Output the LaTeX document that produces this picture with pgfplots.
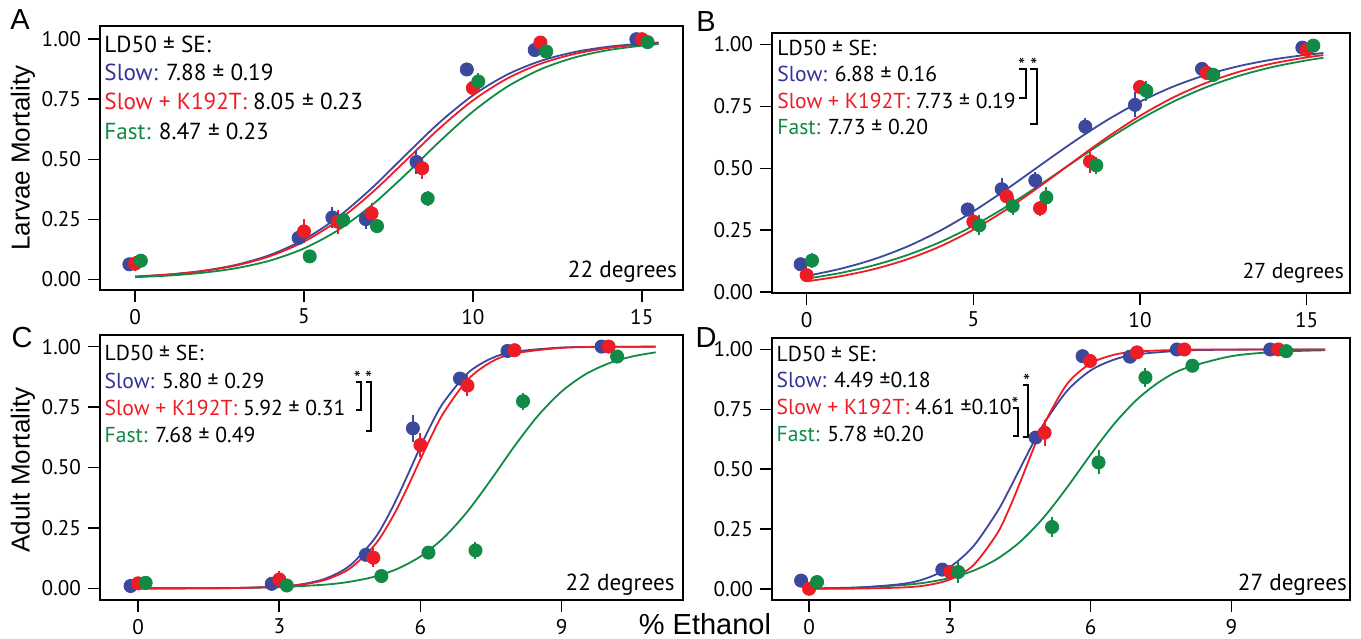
\documentclass[border=0pt]{standalone}
\usepackage{fontspec}
\setmainfont{Liberation Sans}
\newfontfamily\pts{PT Sans}
\usepackage{pgfplots}
\pgfplotsset{compat=1.18}

\definecolor{cblue}{RGB}{59,72,155}
\definecolor{cred}{RGB}{238,28,36}
\definecolor{cgreen}{RGB}{16,138,68}
\definecolor{tblue}{RGB}{52,50,150}

\newcommand\txtA{\pts\fontsize{11.6}{14}\selectfont}
\newcommand\txt{\pts\fontsize{10.8}{13}\selectfont}

\pgfplotsset{
  panel/.style={
    scale only axis, anchor=south west,
    axis line style={line width=1pt},
    tick style={black, line width=0.8pt},
    tick align=outside, tick pos=left, major tick length=6pt,
    ytick={0,0.25,0.5,0.75,1},
    yticklabel style={/pgf/number format/.cd, fixed, fixed zerofill, precision=2},
    tick label style={font=\pts\fontsize{10.6}{12}\selectfont},
    /pgf/number format/assume math mode=true,
    clip=false,
  },
  fit/.style={#1, line width=0.9pt, smooth, no marks},
  pts/.style={only marks, mark=*, mark size=3.3pt, #1,
    error bars/.cd, y dir=both, y explicit, error mark=none,
    error bar style={line width=1pt, #1}},
}

\begin{document}
\begin{tikzpicture}[x=1pt,y=1pt]
\useasboundingbox (0,0) rectangle (680.5,319);

% ---------- A: larvae, 22 degrees
\begin{axis}[panel, at={(50pt,174pt)}, width=291.5pt, height=132pt,
  xmin=-1.04, xmax=16.22, ymin=-0.044, ymax=1.055, xtick={0,5,10,15}]
\addplot[fit=cblue] coordinates {(0,0.0120)(1,0.0208)(2,0.0358)(3,0.0611)(4,0.1022)(5,0.1662)(6,0.2587)(7,0.3792)(8,0.5168)(9,0.6519)(10,0.7663)(11,0.8516)(12,0.9094)(13,0.9462)(14,0.9685)(15,0.9818)(15.5,0.9862)};
\addplot[fit=cred] coordinates {(0,0.0118)(1,0.0203)(2,0.0346)(3,0.0585)(4,0.0973)(5,0.1574)(6,0.2446)(7,0.3595)(8,0.4931)(9,0.6277)(10,0.7451)(11,0.8351)(12,0.8978)(13,0.9383)(14,0.9635)(15,0.9786)(15.5,0.9837)};
\addplot[fit=cgreen] coordinates {(0,0.0094)(1,0.0162)(2,0.0277)(3,0.0470)(4,0.0788)(5,0.1291)(6,0.2045)(7,0.3082)(8,0.4357)(9,0.5724)(10,0.6988)(11,0.8009)(12,0.8745)(13,0.9235)(14,0.9544)(15,0.9731)(15.5,0.9795)};
\addplot[pts=cblue] table[row sep=\\, x=x, y=y, y error=e] {x y e\\ -0.17 0.063 0.02\\ 4.84 0.173 0.02\\ 5.84 0.258 0.045\\ 6.83 0.251 0.04\\ 8.33 0.489 0.05\\ 9.82 0.874 0.02\\ 11.83 0.955 0.02\\ 14.84 1.0 0.01\\};
\addplot[pts=cred] table[row sep=\\, x=x, y=y, y error=e] {x y e\\ 0 0.066 0.03\\ 5 0.2 0.05\\ 6 0.24 0.05\\ 7 0.275 0.045\\ 8.5 0.463 0.045\\ 10 0.797 0.03\\ 12 0.986 0.02\\ 15 1.0 0.01\\};
\addplot[pts=cgreen] table[row sep=\\, x=x, y=y, y error=e] {x y e\\ 0.17 0.078 0.02\\ 5.17 0.096 0.02\\ 6.16 0.247 0.03\\ 7.16 0.222 0.02\\ 8.66 0.337 0.03\\ 10.16 0.824 0.035\\ 12.17 0.949 0.02\\ 15.17 0.988 0.015\\};
\node[anchor=west, inner sep=0, font=\txtA] at (axis cs:-0.92,0.979) {LD50 ± SE:};
\node[anchor=west, inner sep=0, font=\txtA] at (axis cs:-0.92,0.863) {\textcolor{tblue}{Slow:} 7.88 ± 0.19};
\node[anchor=west, inner sep=0, font=\txtA] at (axis cs:-0.92,0.743) {\textcolor{cred}{Slow + K192T:} 8.05 ± 0.23};
\node[anchor=west, inner sep=0, font=\txtA] at (axis cs:-0.92,0.618) {\textcolor{cgreen}{Fast:} 8.47 ± 0.23};
\node[anchor=east, inner sep=0, font=\txtA] at (axis cs:16.05,0.032) {22 degrees};
\end{axis}

% ---------- B: larvae, 27 degrees
\begin{axis}[panel, at={(386pt,172.5pt)}, width=289pt, height=130pt,
  xmin=-1.04, xmax=16.3, ymin=-0.003, ymax=1.046, xtick={0,5,10,15}]
\addplot[fit=cblue] coordinates {(0,0.0660)(1,0.0942)(2,0.1325)(3,0.1833)(4,0.2481)(5,0.3265)(6,0.4160)(7,0.5115)(8,0.6061)(9,0.6934)(10,0.7687)(11,0.8300)(12,0.8777)(13,0.9134)(14,0.9394)(15,0.9580)(15.5,0.9651)};
\addplot[fit=cgreen] coordinates {(0,0.0549)(1,0.0775)(2,0.1083)(3,0.1492)(4,0.2022)(5,0.2680)(6,0.3460)(7,0.4333)(8,0.5248)(9,0.6148)(10,0.6975)(11,0.7691)(12,0.8280)(13,0.8743)(14,0.9095)(15,0.9356)(15.5,0.9458)};
\addplot[fit=cred] coordinates {(0,0.0441)(1,0.0643)(2,0.0927)(3,0.1321)(4,0.1847)(5,0.2523)(6,0.3344)(7,0.4279)(8,0.5268)(9,0.6238)(10,0.7116)(11,0.7861)(12,0.8455)(13,0.8907)(14,0.9238)(15,0.9475)(15.5,0.9566)};
\addplot[pts=cblue] table[row sep=\\, x=x, y=y, y error=e] {x y e\\ -0.18 0.113 0.02\\ 4.83 0.334 0.02\\ 5.85 0.416 0.045\\ 6.86 0.451 0.035\\ 8.36 0.668 0.035\\ 9.85 0.756 0.05\\ 11.86 0.901 0.025\\ 14.87 0.987 0.015\\};
\addplot[pts=cred] table[row sep=\\, x=x, y=y, y error=e] {x y e\\ 0 0.069 0.02\\ 5 0.285 0.035\\ 6 0.387 0.045\\ 7 0.339 0.03\\ 8.5 0.528 0.045\\ 10 0.828 0.02\\ 12 0.885 0.02\\ 15 0.978 0.015\\};
\addplot[pts=cgreen] table[row sep=\\, x=x, y=y, y error=e] {x y e\\ 0.16 0.128 0.03\\ 5.18 0.27 0.04\\ 6.18 0.348 0.035\\ 7.19 0.383 0.04\\ 8.69 0.512 0.035\\ 10.19 0.813 0.04\\ 12.2 0.877 0.02\\ 15.2 0.995 0.01\\};
\node[anchor=west, inner sep=0, font=\txt] at (axis cs:-0.89,0.987) {LD50 ± SE:};
\node[anchor=west, inner sep=0, font=\txt] at (axis cs:-0.89,0.881) {\textcolor{tblue}{Slow:} 6.88 ± 0.16};
\node[anchor=west, inner sep=0, font=\txt] at (axis cs:-0.89,0.773) {\textcolor{cred}{Slow + K192T:} 7.73 ± 0.19};
\node[anchor=west, inner sep=0, font=\txt] at (axis cs:-0.89,0.668) {\textcolor{cgreen}{Fast:} 7.73 ± 0.20};
\node[anchor=east, inner sep=0, font=\txt] at (axis cs:16.13,0.077) {27 degrees};
\draw[line width=1pt] (axis cs:6.38,0.90) -- (axis cs:6.58,0.90) -- (axis cs:6.58,0.782) -- (axis cs:6.38,0.782);
\draw[line width=1pt] (axis cs:6.70,0.90) -- (axis cs:6.90,0.90) -- (axis cs:6.90,0.677) -- (axis cs:6.70,0.677);
\node[font=\pts\fontsize{10}{10}\selectfont, inner sep=0] at (axis cs:6.45,0.915) {*};
\node[font=\pts\fontsize{10}{10}\selectfont, inner sep=0] at (axis cs:6.82,0.915) {*};
\end{axis}

% ---------- C: adults, 22 degrees
\begin{axis}[panel, at={(50pt,19pt)}, width=291.5pt, height=132.5pt,
  xmin=-0.81, xmax=11.58, ymin=-0.048, ymax=1.048, xtick={0,3,6,9}]
\addplot[fit=cgreen] coordinates {(0,0.0002)(1,0.0006)(2,0.0017)(3,0.0053)(4,0.0160)(4.5,0.0276)(5,0.0473)(5.5,0.0800)(6,0.1322)(6.5,0.2105)(7,0.3182)(7.5,0.4497)(8,0.5886)(8.5,0.7146)(9,0.8143)(9.5,0.8847)(10,0.9307)(10.5,0.9592)(11,0.9763)};
\addplot[fit=cblue] coordinates {(0,0.0000)(1,0.0002)(2,0.0013)(3,0.0076)(3.5,0.0180)(4,0.0418)(4.5,0.0943)(5,0.1991)(5.25,0.2775)(5.5,0.3724)(5.75,0.4783)(6,0.5861)(6.25,0.6863)(6.5,0.7717)(7,0.8897)(7.5,0.9507)(8,0.9787)(9,0.9962)(10,0.9993)(11,0.9999)};
\addplot[fit=cred] coordinates {(0,0.0000)(1,0.0002)(2,0.0013)(3,0.0069)(3.5,0.0161)(4,0.0368)(4.5,0.0821)(5,0.1731)(5.25,0.2425)(5.5,0.3287)(5.75,0.4283)(6,0.5339)(6.25,0.6367)(6.5,0.7283)(7,0.8625)(7.5,0.9362)(8,0.9717)(9,0.9947)(10,0.9990)(11,0.9998)};
\addplot[pts=cblue] table[row sep=\\, x=x, y=y, y error=e] {x y e\\ -0.16 0.01 0.01\\ 2.84 0.019 0.01\\ 4.84 0.139 0.02\\ 5.84 0.662 0.055\\ 6.84 0.868 0.02\\ 7.85 0.982 0.01\\ 9.85 1.0 0.005\\};
\addplot[pts=cred] table[row sep=\\, x=x, y=y, y error=e] {x y e\\ 0 0.021 0.02\\ 3 0.037 0.035\\ 5 0.127 0.04\\ 6 0.593 0.05\\ 7 0.839 0.045\\ 8 0.985 0.01\\ 10 1.0 0.005\\};
\addplot[pts=cgreen] table[row sep=\\, x=x, y=y, y error=e] {x y e\\ 0.16 0.023 0.01\\ 3.16 0.012 0.01\\ 5.17 0.051 0.01\\ 6.17 0.148 0.015\\ 7.17 0.157 0.035\\ 8.18 0.774 0.035\\ 10.18 0.959 0.01\\};
\node[anchor=west, inner sep=0, font=\txt] at (axis cs:-0.72,0.972) {LD50 ± SE:};
\node[anchor=west, inner sep=0, font=\txt] at (axis cs:-0.72,0.859) {\textcolor{tblue}{Slow:} 5.80 ± 0.29};
\node[anchor=west, inner sep=0, font=\txt] at (axis cs:-0.72,0.745) {\textcolor{cred}{Slow + K192T:} 5.92 ± 0.31};
\node[anchor=west, inner sep=0, font=\txt] at (axis cs:-0.72,0.634) {\textcolor{cgreen}{Fast:} 7.68 ± 0.49};
\node[anchor=east, inner sep=0, font=\txtA] at (axis cs:11.41,0.014) {22 degrees};
\draw[line width=1pt] (axis cs:4.62,0.855) -- (axis cs:4.74,0.855) -- (axis cs:4.74,0.738) -- (axis cs:4.62,0.738);
\draw[line width=1pt] (axis cs:4.84,0.855) -- (axis cs:4.95,0.855) -- (axis cs:4.95,0.652) -- (axis cs:4.84,0.652);
\node[font=\pts\fontsize{10}{10}\selectfont, inner sep=0] at (axis cs:4.66,0.87) {*};
\node[font=\pts\fontsize{10}{10}\selectfont, inner sep=0] at (axis cs:4.90,0.87) {*};
\end{axis}

% ---------- D: adults, 27 degrees
\begin{axis}[panel, at={(386pt,19pt)}, width=289pt, height=131pt,
  xmin=-0.79, xmax=11.53, ymin=-0.047, ymax=1.048, xtick={0,3,6,9}]
\addplot[fit=cgreen] coordinates {(0,0.0017)(1,0.0052)(2,0.0154)(2.5,0.0264)(3,0.0449)(3.5,0.0753)(4,0.1237)(4.5,0.1965)(5,0.2978)(5.5,0.4236)(6,0.5602)(6.5,0.6882)(7,0.7928)(7.5,0.8690)(8,0.9200)(9,0.9719)(10,0.9904)(11,0.9968)};
\addplot[fit=cblue] coordinates {(0,0.0009)(1,0.0045)(2,0.0206)(2.5,0.0437)(3,0.0903)(3.5,0.1773)(4,0.3187)(4.25,0.4080)(4.5,0.5039)(4.75,0.5994)(5,0.6880)(5.5,0.8272)(6,0.9122)(6.5,0.9575)(7,0.9800)(8,0.9957)(9,0.9991)(10,0.9998)(11,1.0000)};
\addplot[fit=cred] coordinates {(0,0.0001)(1,0.0007)(2,0.0054)(2.5,0.0145)(3,0.0384)(3.5,0.0980)(4,0.2279)(4.25,0.3274)(4.5,0.4452)(4.75,0.5695)(5,0.6857)(5.5,0.8557)(6,0.9416)(6.5,0.9777)(7,0.9917)(8,0.9989)(9,0.9998)(10,1.0000)(11,1.0000)};
\addplot[pts=cblue] table[row sep=\\, x=x, y=y, y error=e] {x y e\\ -0.17 0.034 0.005\\ 2.84 0.080 0.01\\ 4.83 0.632 0.02\\ 5.83 0.972 0.01\\ 6.84 0.97 0.01\\ 7.84 1.0 0.005\\ 9.83 1.0 0.005\\};
\addplot[pts=cred] table[row sep=\\, x=x, y=y, y error=e] {x y e\\ 0 0.0 0.01\\ 3.01 0.070 0.02\\ 5.02 0.652 0.055\\ 5.99 0.952 0.01\\ 6.99 0.988 0.01\\ 8.0 1.0 0.005\\ 10 1.0 0.005\\};
\addplot[pts=cgreen] table[row sep=\\, x=x, y=y, y error=e] {x y e\\ 0.17 0.028 0.025\\ 3.18 0.07 0.045\\ 5.18 0.258 0.04\\ 6.17 0.528 0.05\\ 7.17 0.883 0.04\\ 8.17 0.932 0.01\\ 10.17 0.993 0.01\\};
\node[anchor=west, inner sep=0, font=\txt] at (axis cs:-0.70,0.983) {LD50 ± SE:};
\node[anchor=west, inner sep=0, font=\txt] at (axis cs:-0.70,0.873) {\textcolor{tblue}{Slow:} 4.49 ±0.18};
\node[anchor=west, inner sep=0, font=\txt] at (axis cs:-0.70,0.760) {\textcolor{cred}{Slow + K192T:} 4.61 ±0.10};
\node[anchor=west, inner sep=0, font=\txt] at (axis cs:-0.70,0.648) {\textcolor{cgreen}{Fast:} 5.78 ±0.20};
\node[anchor=east, inner sep=0, font=\txtA] at (axis cs:11.47,0.018) {27 degrees};
\draw[line width=1pt] (axis cs:4.34,0.756) -- (axis cs:4.46,0.756) -- (axis cs:4.46,0.639) -- (axis cs:4.34,0.639);
\draw[line width=1pt] (axis cs:4.55,0.850) -- (axis cs:4.67,0.850) -- (axis cs:4.67,0.634) -- (axis cs:4.55,0.634);
\node[font=\pts\fontsize{10}{10}\selectfont, inner sep=0] at (axis cs:4.64,0.865) {*};
\node[font=\pts\fontsize{10}{10}\selectfont, inner sep=0] at (axis cs:4.39,0.770) {*};
\end{axis}

% labels
\node[font=\fontsize{14.5}{15}\selectfont] at (10,309) {A};
\node[font=\fontsize{14.5}{15}\selectfont] at (353,308) {B};
\node[font=\fontsize{14.5}{15}\selectfont] at (11,150) {C};
\node[font=\fontsize{14.5}{15}\selectfont] at (353,150) {D};
\node[rotate=90, font=\fontsize{13}{14}\selectfont] at (11.5,240) {Larvae Mortality};
\node[rotate=90, font=\fontsize{13}{14}\selectfont] at (11.5,84) {Adult Mortality};
\node[font=\fontsize{14.5}{15}\selectfont, inner sep=0, anchor=base] at (352.5,2) {\% Ethanol};
\end{tikzpicture}
\end{document}
